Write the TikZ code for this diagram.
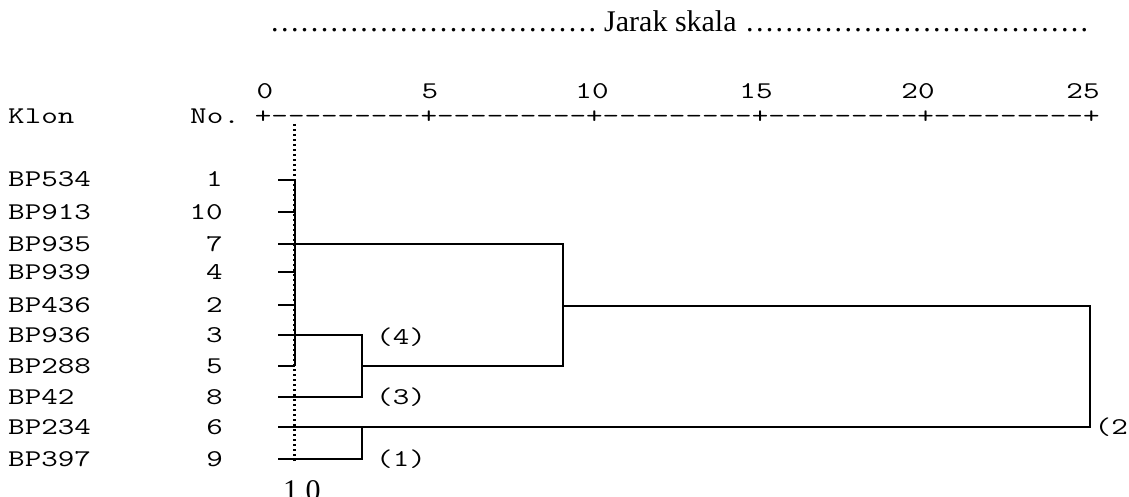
\documentclass[tikz,border=0pt]{standalone}
\usepackage{fontspec}
\setmainfont{Liberation Serif}
\newfontfamily\monof[FakeStretch=1.34]{Latin Modern Mono}
\def\dt{.\hfil}
\begin{document}
\begin{tikzpicture}[x=1pt,y=-1pt,
  mono/.style={font=\monof\fontsize{24}{24}\selectfont, inner sep=0pt},
  serif/.style={font=\fontsize{30}{30}\selectfont, inner sep=0pt},
  ln/.style={line width=1.8pt},
  cut/.style={line width=2.6pt, dash pattern=on 2.4pt off 2.6pt}]
\useasboundingbox (0,0) rectangle (1129,497);

% title
\node[serif, anchor=base west] (dotsL) at (271,32)
  {\hbox to 325pt{\dt\dt\dt\dt\dt\dt\dt\dt\dt\dt\dt\dt\dt\dt\dt\dt\dt\dt\dt\dt\dt\dt\dt\dt\dt\dt\dt\dt\dt\dt\dt\dt.}};
\node[serif, anchor=base west] (title) at (604,32) {Jarak skala};
\node[serif, anchor=base west] (dotsR) at (746,32)
  {\hbox to 342pt{\dt\dt\dt\dt\dt\dt\dt\dt\dt\dt\dt\dt\dt\dt\dt\dt\dt\dt\dt\dt\dt\dt\dt\dt\dt\dt\dt\dt\dt\dt\dt\dt\dt\dt.}};

% scale numbers
\node[mono, anchor=base] (t0)  at (265,99) {0};
\node[mono, anchor=base] (t5)  at (430,99) {5};
\node[mono, anchor=base] (t10) at (592,99) {10};
\node[mono, anchor=base] (t15) at (756,99) {15};
\node[mono, anchor=base] (t20) at (918,99) {20};
\node[mono, anchor=base] (t25) at (1083,99) {25};

% header row
\node[mono, anchor=base west] (klon) at (8,124) {Klon};
\node[mono, anchor=base west] (no) at (190,124) {No.};
\node[mono, anchor=base west] (axis) at (254.7,124)
  {+---------+---------+---------+---------+---------+};

% rows
\foreach \lab/\num/\y/\n in {BP534/1/180/1, BP913/10/212/2, BP935/7/244/3,
  BP939/4/272/4, BP436/2/305/5, BP936/3/335/6, BP288/5/366/7,
  BP42/8/397/8, BP234/6/427/9, BP397/9/459/10}{
  \node[mono, anchor=base west] (lab\n) at (8,\y+7) {\lab};
  \node[mono, anchor=base east] (num\n) at (223,\y+7) {\num};
  \coordinate (s\n) at (278,\y);
}

% level 1 cluster
\coordinate (a1) at (295,180);
\coordinate (a2) at (295,212);
\coordinate (a4) at (295,272);
\coordinate (a5) at (295,305);
\coordinate (a7) at (295,366);
\draw[ln] (s1) -- (a1);
\draw[ln] (s2) -- (a2);
\draw[ln] (s4) -- (a4);
\draw[ln] (s5) -- (a5);
\draw[ln] (s7) -- (a7);
\draw[ln] (a1) -- (a7);

% cluster (4)/(3)
\coordinate (b6) at (362,335);
\coordinate (b8) at (362,397);
\coordinate (bm) at (362,366);
\draw[ln] (s6) -- (b6) -- (b8) -- (s8);

% merge at ~9
\coordinate (c3) at (563,244);
\coordinate (cm) at (563,366);
\coordinate (cc) at (563,306);
\draw[ln] (s3) -- (c3) -- (cm) -- (bm);

% final merge
\coordinate (d1) at (1090,306);
\coordinate (d9) at (1090,427);
\draw[ln] (cc) -- (d1) -- (d9) -- (s9);

% cluster (1)
\coordinate (e9) at (362,427);
\coordinate (e10) at (362,459);
\draw[ln] (e9) -- (e10) -- (s10);

% cut line
\coordinate (cutT) at (294.5,124);
\coordinate (cutB) at (294.5,462);
\draw[cut] (cutT) -- (cutB);

% cluster labels
\node[mono, anchor=base west] (g4) at (376,344) {(4)};
\node[mono, anchor=base west] (g3) at (376,404) {(3)};
\node[mono, anchor=base west] (g1) at (376,466) {(1)};
\node[mono, anchor=base east] (g2) at (1128,434) {(2};

% cut value
\node[serif, anchor=base west] (cv) at (283,500) {1,0};
\end{tikzpicture}
\end{document}
